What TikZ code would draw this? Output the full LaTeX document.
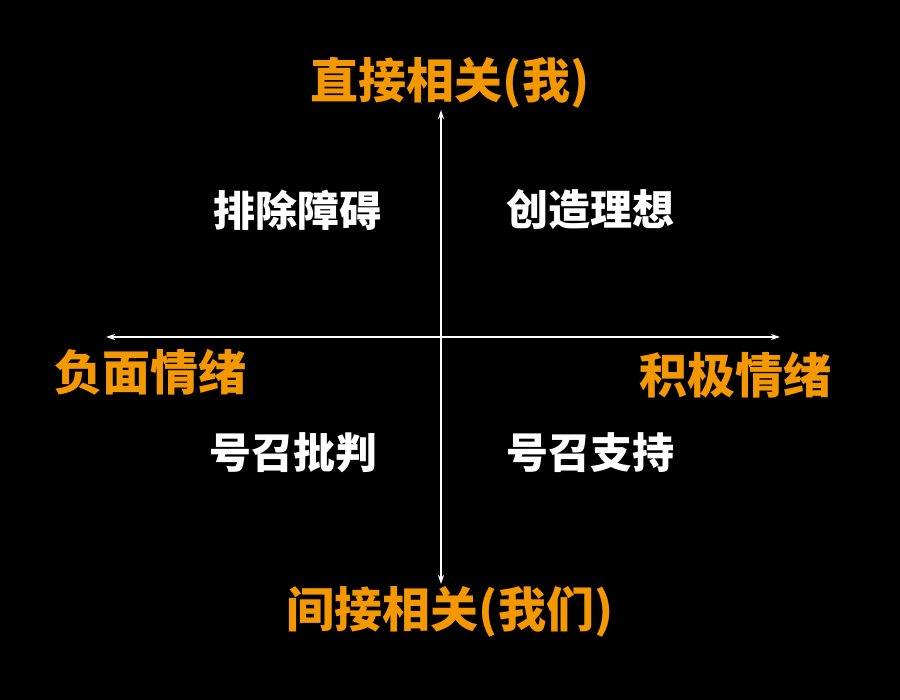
\documentclass[tikz,border=0pt]{standalone}
\usepackage{fontspec}
\newfontfamily\cjk{Noto Sans CJK SC}
\usetikzlibrary{arrows.meta}
\definecolor{org}{HTML}{F39800}
\begin{document}
\begin{tikzpicture}[x=1pt,y=-1pt,
  axis/.style={draw=white,line width=1.6pt,-{Stealth[length=9pt,width=6pt]}},
  big/.style={text=org,font=\cjk\bfseries\fontsize{48}{52}\selectfont},
  small/.style={text=white,font=\cjk\bfseries\fontsize{42}{46}\selectfont}]
\fill[black] (0,0) rectangle (900,700);
\useasboundingbox (0,0) rectangle (900,700);
\coordinate (c) at (441,337);
\coordinate (t) at (441,110);
\coordinate (b) at (441,584);
\coordinate (l) at (106,337);
\coordinate (r) at (780,337);
\draw[axis] (c) -- (t);
\draw[axis] (c) -- (b);
\draw[axis] (c) -- (l);
\draw[axis] (c) -- (r);
\node[big] (n1) at (450,83) {直接相关(我)};
\node[big] (n2) at (450,612) {间接相关(我们)};
\node[big] (n3) at (150,372) {负面情绪};
\node[big] (n4) at (735,375) {积极情绪};
\node[small] (q1) at (297,210) {排除障碍};
\node[small] (q2) at (590,210) {创造理想};
\node[small] (q3) at (293,453) {号召批判};
\node[small] (q4) at (590,453) {号召支持};
\end{tikzpicture}
\end{document}
